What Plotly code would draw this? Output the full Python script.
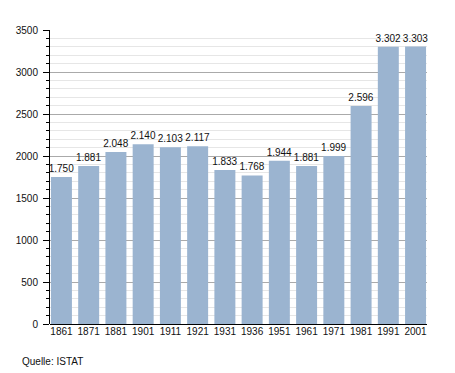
import plotly.graph_objects as go

years = ["1861", "1871", "1881", "1901", "1911", "1921", "1931", "1936",
         "1951", "1961", "1971", "1981", "1991", "2001"]
population = [1750, 1881, 2048, 2140, 2103, 2117, 1833, 1768,
              1944, 1881, 1999, 2596, 3302, 3303]
y_ticks = [0, 500, 1000, 1500, 2000, 2500, 3000, 3500]
source = "Quelle: ISTAT"

labels = [f"{v:,}".replace(",", ".") for v in population]
xpos = list(range(len(years)))

W, H = 455, 373
ml, mr, mt, mb = 50, 28, 30, 49
pw = W - ml - mr
ph = H - mt - mb
FONT = "Liberation Sans, Arial"

fig = go.Figure(go.Bar(
    x=xpos, y=population, text=labels, textposition="outside",
    constraintext="none",
    width=0.77, marker=dict(color="#9bb4d0", line=dict(width=0)),
    textfont=dict(family=FONT, size=10, color="#111"),
    cliponaxis=False, hoverinfo="skip",
))

fig.update_layout(
    width=W, height=H,
    margin=dict(l=ml, r=mr, t=mt, b=mb),
    paper_bgcolor="white", plot_bgcolor="white",
    showlegend=False,
    font=dict(family=FONT, size=10, color="#111"),
    xaxis=dict(
        tickmode="array", tickvals=xpos, ticktext=years,
        range=[-0.42, 13.42], showgrid=False, zeroline=False,
        showline=False, ticks="", fixedrange=True,
    ),
    yaxis=dict(
        range=[0, 3500], tickmode="array", tickvals=y_ticks,
        showgrid=True, gridcolor="#aaaaaa", gridwidth=1,
        showline=True, linecolor="#000", linewidth=1,
        ticks="outside", ticklen=6, tickcolor="#000",
        ticklabelstandoff=3,
        zeroline=True, zerolinecolor="#000", zerolinewidth=1,
        minor=dict(dtick=100, showgrid=True, gridcolor="#e6e6e6",
                   ticks="outside", ticklen=3, tickcolor="#000"),
        fixedrange=True,
    ),
    annotations=[dict(
        text=source, xref="paper", yref="paper",
        x=(20 - ml) / pw, y=-(361 - (H - mb)) / ph,
        xanchor="left", yanchor="middle", showarrow=False,
        font=dict(family=FONT, size=10, color="#111"),
    )],
)

fig.write_html("out.html", config={"displayModeBar": False},
               post_script="document.body.style.margin='0';")
